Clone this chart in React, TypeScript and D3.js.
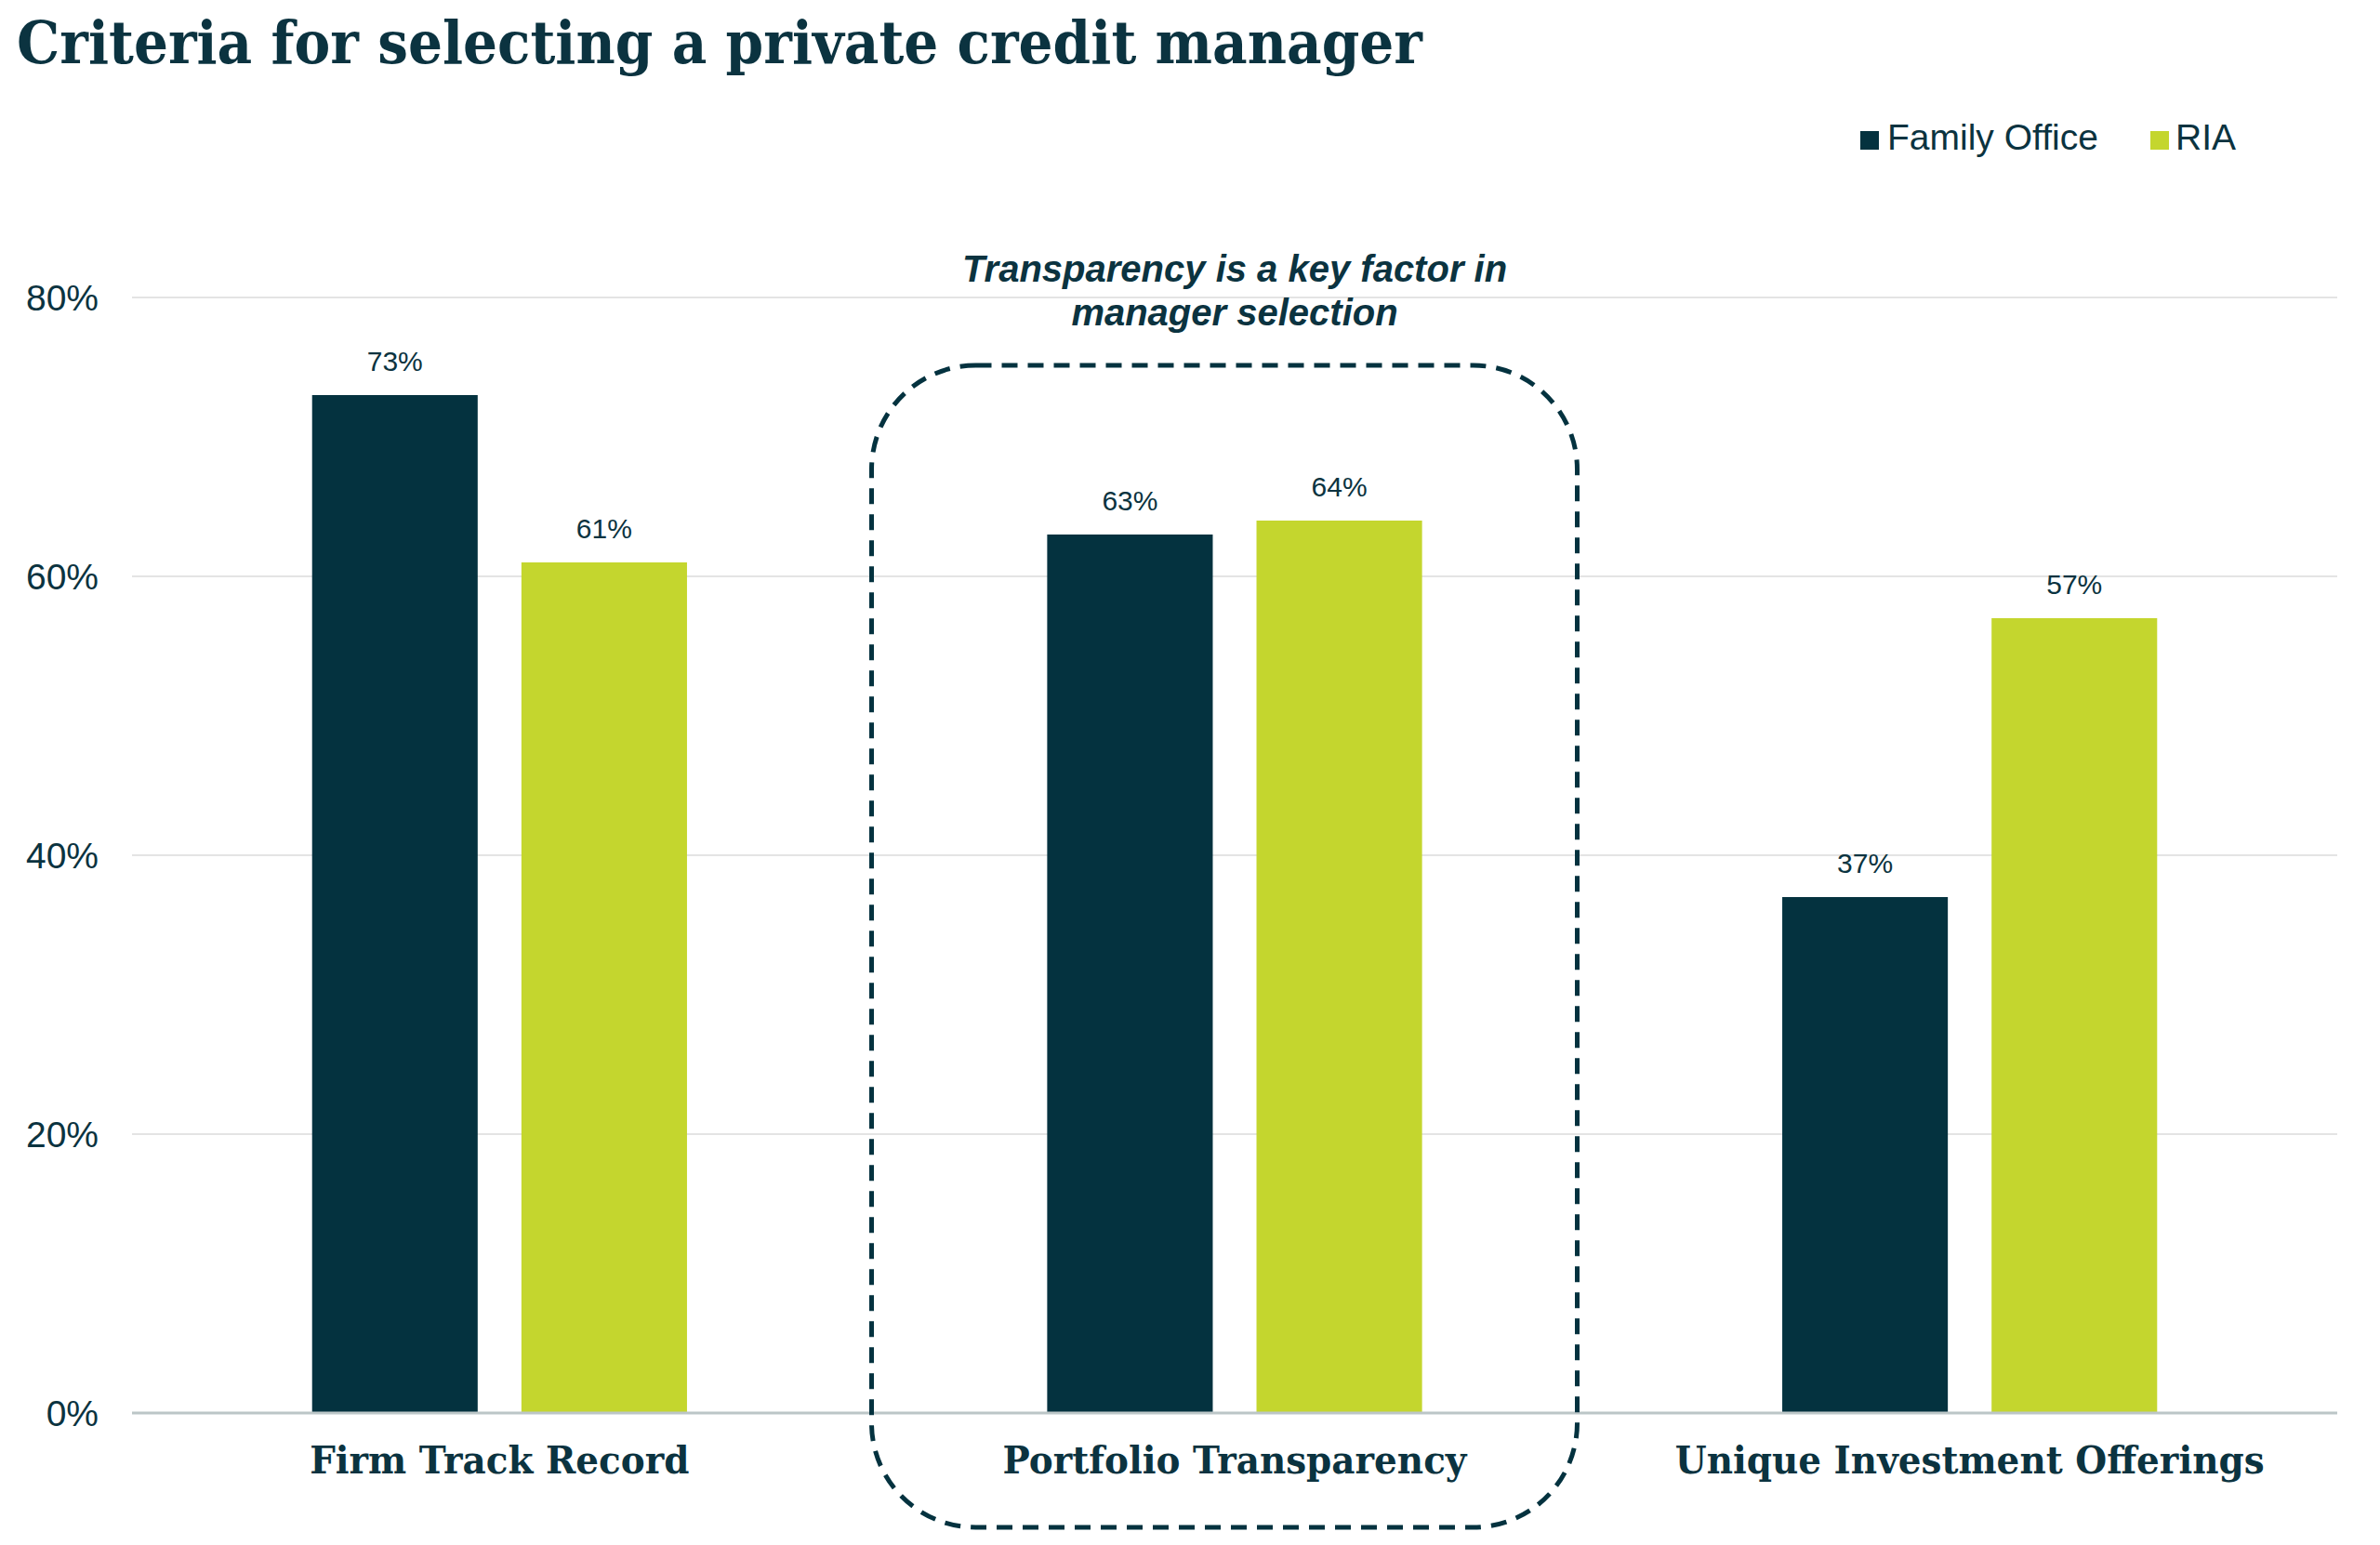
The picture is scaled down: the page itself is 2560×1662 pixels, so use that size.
import * as d3 from 'd3';

const categories = ['Firm Track Record', 'Portfolio Transparency', 'Unique Investment Offerings'];
const seriesNames = ['Family Office', 'RIA'];
const familyOffice = [73, 63, 37];
const ria = [61, 64, 57];
const yTicks = [0, 20, 40, 60, 80];
const calloutLines = ['Transparency is a key factor in', 'manager selection'];

const W = 2560;
const H = 1662;
const DARK = '#04323f';
const GREEN = '#c4d62e';
const TEXT = '#0b3340';
const SANS = '"Liberation Sans", Arial, sans-serif';
const SERIF = '"DejaVu Serif", "Liberation Serif", serif';

export default function App() {
  const plot = { left: 142, right: 2514, top: 320, bottom: 1520 };

  const y = d3.scaleLinear().domain([0, 80]).range([plot.bottom, plot.top]);

  const x0 = d3
    .scaleBand<string>()
    .domain(categories)
    .range([plot.left, plot.right])
    .paddingInner(0.49)
    .paddingOuter(0.245);

  const x1 = d3
    .scaleBand<string>()
    .domain(seriesNames)
    .range([0, x0.bandwidth()])
    .paddingInner(0.209);

  const color = d3.scaleOrdinal<string, string>().domain(seriesNames).range([DARK, GREEN]);
  const values = [familyOffice, ria];

  const center = (c: string) => (x0(c) ?? 0) + x0.bandwidth() / 2;
  const boxCx = center(categories[1]) - 11;

  return (
    <svg
      width={W}
      height={H}
      style={{ position: 'absolute', left: 0, top: 0, background: '#fff' }}
    >
      <text
        x={18}
        y={68}
        fontFamily={SERIF}
        fontWeight={700}
        fontSize={63}
        fill={TEXT}
        textLength={1512}
        lengthAdjust="spacingAndGlyphs"
      >
        Criteria for selecting a private credit manager
      </text>

      {/* legend */}
      <g fontFamily={SANS} fontSize={39} fill={TEXT}>
        <rect x={2001} y={141} width={20} height={20} fill={color(seriesNames[0])} />
        <text x={2030} y={161}>{seriesNames[0]}</text>
        <rect x={2313} y={141} width={20} height={20} fill={color(seriesNames[1])} />
        <text x={2340} y={161}>{seriesNames[1]}</text>
      </g>

      {/* grid + y labels */}
      {yTicks.map((t) => (
        <g key={t}>
          {t !== 0 && (
            <line x1={plot.left} x2={plot.right} y1={y(t)} y2={y(t)} stroke="#e4e4e4" strokeWidth={2} />
          )}
          <text
            x={106}
            y={y(t)}
            dy="0.35em"
            textAnchor="end"
            fontFamily={SANS}
            fontSize={39}
            fill={TEXT}
          >
            {d3.format('.0%')(t / 100)}
          </text>
        </g>
      ))}

      {/* bars */}
      {categories.map((c, i) => (
        <g key={c} transform={`translate(${x0(c)},0)`}>
          {seriesNames.map((s, j) => {
            const v = values[j][i];
            const bx = x1(s) ?? 0;
            return (
              <g key={s}>
                <rect x={bx} y={y(v)} width={x1.bandwidth()} height={y(0) - y(v)} fill={color(s)} />
                <text
                  x={bx + x1.bandwidth() / 2}
                  y={y(v) - 26}
                  textAnchor="middle"
                  fontFamily={SANS}
                  fontSize={30}
                  fill={TEXT}
                >
                  {v}%
                </text>
              </g>
            );
          })}
        </g>
      ))}

      <line x1={plot.left} x2={plot.right} y1={y(0)} y2={y(0)} stroke="#bcc6c7" strokeWidth={3} />

      {/* category labels */}
      {categories.map((c) => (
        <text
          key={c}
          transform={`translate(${center(c)},1585) scale(0.95,1)`}
          textAnchor="middle"
          fontFamily={SERIF}
          fontWeight={700}
          fontSize={41}
          fill={TEXT}
        >
          {c}
        </text>
      ))}

      {/* callout */}
      <rect
        x={boxCx - 379.5}
        y={393}
        width={759}
        height={1250}
        rx={112}
        ry={112}
        fill="none"
        stroke={DARK}
        strokeWidth={5}
        strokeDasharray="17 11"
      />
      {calloutLines.map((l, i) => (
        <text
          key={l}
          x={center(categories[1])}
          y={303 + i * 47}
          textAnchor="middle"
          fontFamily={SANS}
          fontWeight={700}
          fontStyle="italic"
          fontSize={40}
          fill={TEXT}
        >
          {l}
        </text>
      ))}
    </svg>
  );
}
